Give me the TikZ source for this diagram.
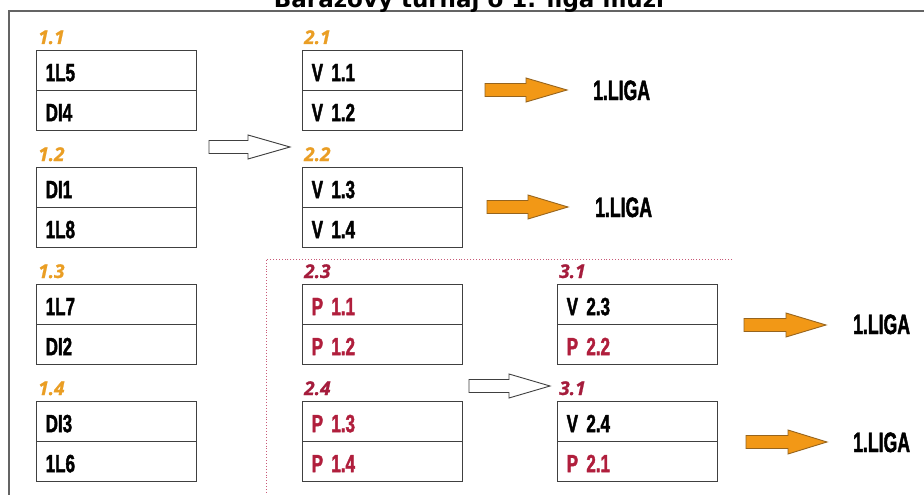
\documentclass[tikz,border=0pt]{standalone}
\usepackage{fontspec}
\setmainfont{Liberation Sans}
\newfontfamily\condfont[FakeStretch=0.68,FakeBold=1.6]{Liberation Sans}
\newfontfamily\ligafont[FakeStretch=0.63,FakeBold=1.6]{Liberation Sans}
\newfontfamily\labfont[FakeBold=1]{Open Sans}
\newfontfamily\titlefont{DejaVu Sans}
\definecolor{lblorange}{RGB}{234,158,36}
\definecolor{arrorange}{RGB}{242,152,22}
\definecolor{arredge}{RGB}{150,100,30}
\definecolor{darkred}{RGB}{165,28,60}
\definecolor{cellred}{RGB}{176,30,60}
\definecolor{boxgray}{RGB}{64,64,64}
\definecolor{framegray}{RGB}{100,100,100}
\definecolor{dotred}{RGB}{200,90,120}
\tikzset{
  cellbox/.style={rectangle, draw=boxgray, line width=1.4pt, anchor=north west,
    minimum width=160pt, minimum height=40pt, inner xsep=9pt, inner ysep=0pt,
    text width=142pt, align=left, text height=21pt, text depth=0pt,
    font=\condfont\bfseries\fontsize{25}{25}\selectfont},
  lbl/.style={inner sep=0pt, anchor=base west, font=\labfont\bfseries\itshape\fontsize{19}{19}\selectfont},
  liga/.style={inner sep=0pt, anchor=base west, font=\ligafont\bfseries\fontsize{28}{28}\selectfont},
  whitearrow/.style={draw=boxgray, line width=0.9pt, fill=white},
  orangearrow/.style={draw=arredge, line width=0.9pt, fill=arrorange},
  dotline/.style={draw=dotred, dotted, line width=0.9pt}
}
\newcommand\matchbox[9]{%
  \node[cellbox, text=#7] (#1a) at (#2,#3) {#6};
  \node[cellbox, text=#9] (#1b) at (#2,#3+40) {#8};
  \node[lbl, text=#5] (#1l) at (#2+2,#3-6) {#4};
}
\newcommand\blockarrow[5]{% x1, xbase, xtip, y, style
  \path[#5] (#1,#4-6.5) -- (#2,#4-6.5) -- (#2,#4-12) -- (#3,#4) -- (#2,#4+12)
    -- (#2,#4+6.5) -- (#1,#4+6.5) -- cycle;
}
\begin{document}
\begin{tikzpicture}[x=1pt, y=-1pt]
\useasboundingbox (0,0) rectangle (924,495);
\clip (0,0) rectangle (924,495);
\fill[white] (0,0) rectangle (924,495);
% frame
\draw[framegray, line width=2pt] (940,11) -- (9,11) -- (9,510);
% title (cut off at the top, as in the reference)
\node[anchor=base, inner sep=0pt, font=\titlefont\bfseries\fontsize{23}{23}\selectfont] (title) at (469,8) {Barážový turnaj o 1. liga muži};
% dotted separator
\coordinate (d0) at (266,259);
\coordinate (d1) at (732,259);
\coordinate (d2) at (266,500);
\draw[dotline] (d1) -- (d0) -- (d2);
% column 1
\matchbox{m11}{36}{50}{1.1}{lblorange}{1L5}{black}{DI4}{black}
\matchbox{m12}{36}{167}{1.2}{lblorange}{DI1}{black}{1L8}{black}
\matchbox{m13}{36}{284}{1.3}{lblorange}{1L7}{black}{DI2}{black}
\matchbox{m14}{36}{401}{1.4}{lblorange}{DI3}{black}{1L6}{black}
% column 2
\matchbox{m21}{302}{50}{2.1}{lblorange}{V 1.1}{black}{V 1.2}{black}
\matchbox{m22}{302}{167}{2.2}{lblorange}{V 1.3}{black}{V 1.4}{black}
\matchbox{m23}{302}{284}{2.3}{darkred}{P 1.1}{cellred}{P 1.2}{cellred}
\matchbox{m24}{302}{401}{2.4}{darkred}{P 1.3}{cellred}{P 1.4}{cellred}
% column 3
\matchbox{m31}{557}{284}{3.1}{darkred}{V 2.3}{black}{P 2.2}{cellred}
\matchbox{m32}{557}{401}{3.1}{darkred}{V 2.4}{black}{P 2.1}{cellred}
% white arrows
\blockarrow{209}{248}{290}{147}{whitearrow}
\blockarrow{469}{509}{550}{386}{whitearrow}
% orange arrows
\blockarrow{485}{526}{567}{90}{orangearrow}
\blockarrow{487}{528}{568}{207}{orangearrow}
\blockarrow{744}{786}{826}{325}{orangearrow}
\blockarrow{746}{788}{827}{442}{orangearrow}
% 1.LIGA labels
\node[liga] (liga1) at (593,100) {1.LIGA};
\node[liga] (liga2) at (595,217) {1.LIGA};
\node[liga] (liga3) at (853,334) {1.LIGA};
\node[liga] (liga4) at (853,452) {1.LIGA};
\end{tikzpicture}
\end{document}
